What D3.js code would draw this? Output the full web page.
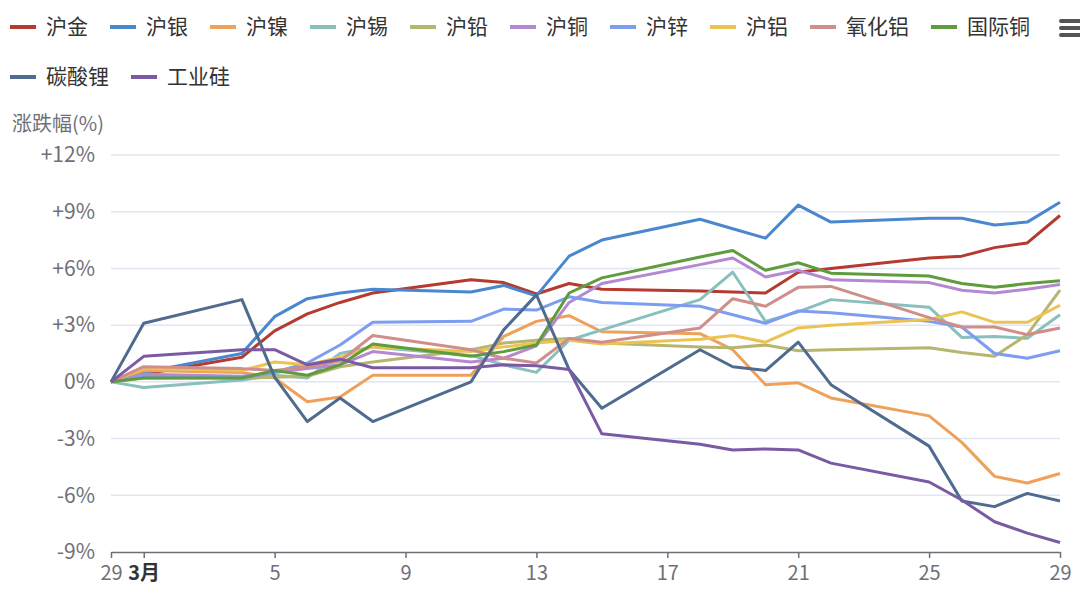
<!DOCTYPE html>
<html lang="zh">
  <head>
    <meta charset="UTF-8" />
    <title>涨跌幅</title>
    <style>
      body { margin: 0; background: #fff; }
      text { font-family: "Noto Sans CJK SC", "Noto Sans", sans-serif; }
    </style>
  </head>
  <body>
    <svg id="svg" width="1080" height="598"></svg>

    <script src="https://d3js.org/d3.v7.min.js"></script>
    <script>
      // trading days, Feb 29 - Mar 29
      const dates = ["2024-02-29", "2024-03-01", "2024-03-04", "2024-03-05", "2024-03-06", "2024-03-07",
        "2024-03-08", "2024-03-11", "2024-03-12", "2024-03-13", "2024-03-14", "2024-03-15",
        "2024-03-18", "2024-03-19", "2024-03-20", "2024-03-21", "2024-03-22", "2024-03-25",
        "2024-03-26", "2024-03-27", "2024-03-28", "2024-03-29"];

      const names = ["沪金", "沪银", "沪镍", "沪锡", "沪铅", "沪铜", "沪锌", "沪铝", "氧化铝", "国际铜", "碳酸锂", "工业硅"];

      const gold = [0, 0.4, 1.3, 2.7, 3.6, 4.2, 4.7, 5.4, 5.25, 4.65, 5.2, 4.9, 4.8, 4.75, 4.7, 5.8, 6.0, 6.55, 6.65, 7.1, 7.35, 8.8];
      const silver = [0, 0.5, 1.5, 3.45, 4.4, 4.7, 4.9, 4.75, 5.1, 4.55, 6.65, 7.5, 8.6, 8.1, 7.6, 9.35, 8.45, 8.65, 8.65, 8.3, 8.45, 9.5];
      const nickel = [0, 0.6, 0.5, 0.2, -1.05, -0.8, 0.35, 0.35, 2.4, 3.2, 3.5, 2.65, 2.55, 1.7, -0.15, -0.05, -0.85, -1.8, -3.2, -5.0, -5.35, -4.85];
      const tin = [0, -0.3, 0.1, 0.35, 0.2, 1.5, 1.85, 1.4, 0.9, 0.5, 2.2, 2.75, 4.35, 5.8, 3.2, 3.7, 4.35, 3.95, 2.35, 2.4, 2.3, 3.55];
      const lead = [0, 0.2, 0.2, 0.25, 0.3, 0.8, 1.05, 1.7, 2.05, 2.2, 2.3, 2.05, 1.85, 1.8, 1.95, 1.65, 1.7, 1.8, 1.55, 1.35, 2.5, 4.85];
      const copper = [0, 0.4, 0.3, 0.5, 0.7, 0.9, 1.6, 1.05, 1.25, 1.9, 4.2, 5.2, 6.2, 6.55, 5.55, 5.9, 5.4, 5.25, 4.85, 4.7, 4.9, 5.15];
      const zinc = [0, 0.3, 0.2, 0.5, 1.0, 1.95, 3.15, 3.2, 3.85, 3.8, 4.5, 4.2, 4.0, 3.55, 3.1, 3.75, 3.65, 3.2, 2.9, 1.5, 1.25, 1.65];
      const aluminium = [0, 0.7, 0.6, 1.05, 0.9, 1.3, 1.85, 1.6, 1.85, 2.05, 2.2, 2.0, 2.25, 2.45, 2.1, 2.85, 3.0, 3.3, 3.7, 3.15, 3.15, 4.05];
      const alumina = [0, 0.8, 0.7, 0.6, 0.8, 1.1, 2.45, 1.7, 1.25, 1.0, 2.3, 2.1, 2.85, 4.4, 4.0, 5.0, 5.05, 3.4, 2.9, 2.9, 2.5, 2.85];
      const intlCopper = [0, 0.2, 0.2, 0.6, 0.35, 0.9, 2.0, 1.35, 1.6, 1.95, 4.7, 5.5, 6.6, 6.95, 5.9, 6.3, 5.75, 5.6, 5.2, 5.0, 5.2, 5.35];
      const lithium = [0, 3.1, 4.35, 0.25, -2.1, -0.85, -2.1, 0, 2.75, 4.6, 0.65, -1.4, 1.7, 0.8, 0.6, 2.1, -0.15, -3.4, -6.3, -6.6, -5.9, -6.3];
      const silicon = [0, 1.35, 1.7, 1.7, 0.9, 1.2, 0.75, 0.75, 0.9, 0.85, 0.65, -2.75, -3.3, -3.6, -3.55, -3.6, -4.3, -5.3, -6.25, -7.4, -8.0, -8.5];

      const yTicks = [-9, -6, -3, 0, 3, 6, 9, 12];
      const xTicks = ["2024-02-29", "2024-03-01", "2024-03-05", "2024-03-09", "2024-03-13", "2024-03-17", "2024-03-21", "2024-03-25", "2024-03-29"];

      const values = [gold, silver, nickel, tin, lead, copper, zinc, aluminium, alumina, intlCopper, lithium, silicon];
      const colors = ["#b53a2f", "#4a87cf", "#eea15b", "#89bfbd", "#b8b56f", "#b588d2",
        "#7c9df0", "#ebc350", "#d08e8b", "#5f9c3d", "#4f6b8f", "#7a5aa3"];

      const parse = d3.timeParse("%Y-%m-%d");
      const svg = d3.select("#svg");

      const x = d3.scaleTime()
        .domain([parse(dates[0]), parse(dates[dates.length - 1])])
        .range([111, 1060]);
      const y = d3.scaleLinear().domain([-9, 12]).range([552, 155]);

      // grid lines
      svg.append("g")
        .selectAll("line")
        .data(yTicks.filter((t) => t !== -9))
        .enter()
        .append("line")
        .attr("x1", 111)
        .attr("x2", 1060)
        .attr("y1", (d) => y(d))
        .attr("y2", (d) => y(d))
        .attr("stroke", "#e0e6f1")
        .attr("stroke-width", 1.5);

      // y labels
      svg.append("g")
        .selectAll("text")
        .data(yTicks)
        .enter()
        .append("text")
        .attr("x", 95)
        .attr("y", (d) => y(d))
        .attr("dy", "0.35em")
        .attr("text-anchor", "end")
        .attr("font-size", 21)
        .attr("fill", "#6e7079")
        .text((d) => (d > 0 ? "+" + d + "%" : d + "%"));

      svg.append("text")
        .attr("x", 12)
        .attr("y", 131)
        .attr("font-size", 20)
        .attr("fill", "#6e7079")
        .text("涨跌幅(%)");

      // x axis
      const xAxis = d3.axisBottom(x)
        .tickValues(xTicks.map(parse))
        .tickSize(6)
        .tickSizeOuter(0)
        .tickFormat((d) => (d.getMonth() === 2 && d.getDate() === 1 ? "3月" : d.getDate()));

      const gx = svg.append("g").attr("transform", "translate(0,552)").call(xAxis);
      gx.select(".domain").attr("stroke", "#6e7079").attr("stroke-width", 1.5);
      gx.selectAll(".tick line").attr("stroke", "#6e7079").attr("stroke-width", 1.5);
      gx.selectAll(".tick text")
        .attr("font-family", "\"Noto Sans CJK SC\", sans-serif")
        .attr("font-size", 20)
        .attr("dy", "0.95em")
        .attr("font-weight", (d) => (d.getDate() === 1 ? "bold" : "normal"))
        .attr("fill", (d) => (d.getDate() === 1 ? "#333" : "#6e7079"));

      // lines
      const line = d3.line()
        .x((d, i) => x(parse(dates[i])))
        .y((d) => y(d));

      svg.append("g")
        .selectAll("path")
        .data(values)
        .enter()
        .append("path")
        .attr("d", (d) => line(d))
        .attr("fill", "none")
        .attr("stroke", (d, i) => colors[i])
        .attr("stroke-width", 3)
        .attr("stroke-linejoin", "round");

      // legend
      const legend = svg.append("g");
      let lx = 10;
      let ly = 27;
      names.forEach((name, i) => {
        const g = legend.append("g");
        const t = g.append("text")
          .attr("font-size", 21)
          .attr("fill", "#333")
          .attr("dy", "0.35em")
          .text(name);
        const w = t.node().getComputedTextLength();
        if (lx + 36 + w > 1045) {
          lx = 10;
          ly += 50;
        }
        g.attr("transform", `translate(${lx},${ly})`);
        g.append("line")
          .attr("x1", 0)
          .attr("x2", 26)
          .attr("stroke", colors[i])
          .attr("stroke-width", 4);
        t.attr("x", 36);
        lx += 36 + w + 22;
      });

      // toolbox icon
      svg.append("g")
        .selectAll("rect")
        .data([0, 1, 2])
        .enter()
        .append("rect")
        .attr("x", 1059)
        .attr("y", (d) => 19 + d * 7)
        .attr("width", 30)
        .attr("height", 4)
        .attr("rx", 2)
        .attr("fill", "#555");
    </script>
  </body>
</html>
